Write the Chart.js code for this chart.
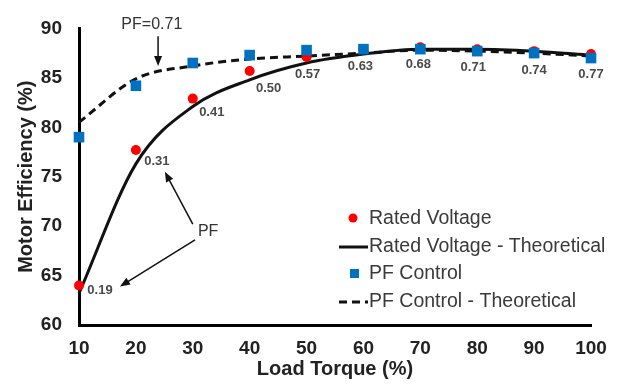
<!DOCTYPE html>
<html>
<head>
<meta charset="utf-8">
<script src="https://cdn.jsdelivr.net/npm/chart.js@4.4.1/dist/chart.umd.min.js"></script>
<style>
html, body { margin:0; padding:0; background:#fff; }
</style>
</head>
<body>
<canvas id="myChart" width="624" height="391"></canvas>
<script>
// data
var loadTorque   = [10, 20, 30, 40, 50, 60, 70, 80, 90, 100];
var ratedVoltage = [64.0, 77.7, 82.9, 85.7, 87.1, 87.9, 88.1, 87.9, 87.7, 87.4];
var ratedTheory  = [63.2, 76.3, 82.1, 84.8, 86.5, 87.4, 87.9, 87.9, 87.7, 87.3];
var pfControl    = [79.0, 84.2, 86.5, 87.3, 87.8, 87.9, 87.9, 87.7, 87.5, 87.0];
var pfTheory     = [80.5, 84.9, 86.2, 86.9, 87.2, 87.5, 87.8, 87.7, 87.5, 87.2];
var pfLabels     = ['0.19', '0.31', '0.41', '0.50', '0.57', '0.63', '0.68', '0.71', '0.74', '0.77'];
var xTicks = [10, 20, 30, 40, 50, 60, 70, 80, 90, 100];
var yTicks = [60, 65, 70, 75, 80, 85, 90];

// label offsets from the red points (px)
var labelOffsets = [[21,5],[21,11],[19,14],[19,18],[1,17],[-3,17],[-2,17],[-4,18],[0,19],[0,20]];

var FONT = 'Arial, "Liberation Sans", sans-serif';

function pts(ys) {
  return loadTorque.map(function(x, i) { return {x: x, y: ys[i]}; });
}

function arrow(ctx, x1, y1, x2, y2) {
  var a = Math.atan2(y2 - y1, x2 - x1);
  ctx.beginPath();
  ctx.moveTo(x1, y1);
  ctx.lineTo(x2 - 6 * Math.cos(a), y2 - 6 * Math.sin(a));
  ctx.stroke();
  ctx.beginPath();
  ctx.moveTo(x2, y2);
  ctx.lineTo(x2 - 10 * Math.cos(a) + 4 * Math.sin(a), y2 - 10 * Math.sin(a) - 4 * Math.cos(a));
  ctx.lineTo(x2 - 10 * Math.cos(a) - 4 * Math.sin(a), y2 - 10 * Math.sin(a) + 4 * Math.cos(a));
  ctx.closePath();
  ctx.fill();
}

var notesPlugin = {
  id: 'notes',
  afterDatasetsDraw: function(chart) {
    var ctx = chart.ctx;
    var xs = chart.scales.x, ys = chart.scales.y;
    ctx.save();
    // PF values next to the measured points
    ctx.font = 'bold 13px ' + FONT;
    ctx.fillStyle = '#4a4a4a';
    ctx.textAlign = 'center';
    ctx.textBaseline = 'middle';
    pfLabels.forEach(function(t, i) {
      var px = xs.getPixelForValue(loadTorque[i]);
      var py = ys.getPixelForValue(ratedVoltage[i]);
      ctx.fillText(t, px + labelOffsets[i][0], py + labelOffsets[i][1]);
    });

    ctx.strokeStyle = '#111';
    ctx.fillStyle = '#111';
    ctx.lineWidth = 1.5;
    // PF=0.71 callout
    arrow(ctx, xs.getPixelForValue(23.9), ys.getPixelForValue(89.2), xs.getPixelForValue(23.9), ys.getPixelForValue(86.2));
    // PF callouts
    arrow(ctx, xs.getPixelForValue(30.0), ys.getPixelForValue(70.2), xs.getPixelForValue(25.1), ys.getPixelForValue(75.5));
    arrow(ctx, xs.getPixelForValue(30.4), ys.getPixelForValue(68.6), xs.getPixelForValue(17.2), ys.getPixelForValue(63.9));

    ctx.font = '16px ' + FONT;
    ctx.fillStyle = '#333';
    ctx.textAlign = 'center';
    ctx.fillText('PF=0.71', xs.getPixelForValue(22.8), ys.getPixelForValue(90.35));
    ctx.fillText('PF', xs.getPixelForValue(32.7), ys.getPixelForValue(69.4));
    ctx.restore();
  },
  afterDraw: function(chart) {
    // legend inside the plot
    var ctx = chart.ctx;
    var ds = chart.data.datasets;
    var lx = 369, rows = [218, 246, 273, 301];
    var order = [1, 2, 0, 3];
    ctx.save();
    ctx.font = '19.5px ' + FONT;
    ctx.textAlign = 'left';
    ctx.textBaseline = 'middle';
    order.forEach(function(k, r) {
      var d = ds[k];
      var y = rows[r];
      if (d.showLine) {
        ctx.strokeStyle = '#111';
        ctx.lineWidth = 3;
        ctx.setLineDash(d.borderDash || []);
        ctx.beginPath();
        ctx.moveTo(lx - 30, y + 1);
        ctx.lineTo(lx - 1, y + 1);
        ctx.stroke();
        ctx.setLineDash([]);
      } else if (d.pointStyle === 'rect') {
        ctx.fillStyle = d.backgroundColor;
        ctx.fillRect(lx - 19, y - 4, 9, 9);
      } else {
        ctx.fillStyle = d.backgroundColor;
        ctx.beginPath();
        ctx.arc(lx - 16, y, 4.5, 0, Math.PI * 2);
        ctx.fill();
      }
      ctx.fillStyle = '#3a3a3a';
      ctx.fillText(d.label, lx, y + 1);
    });
    ctx.restore();
  }
};

var ctx = document.getElementById('myChart').getContext('2d');
window.myChart = new Chart(ctx, {
  type: 'scatter',
  data: {
    datasets: [
      {
        label: 'PF Control',
        data: pts(pfControl),
        pointStyle: 'rect',
        pointRadius: 7.5,
        backgroundColor: '#0070C0',
        borderColor: '#0070C0',
        borderWidth: 0,
        clip: false,
        order: 0
      },
      {
        label: 'Rated Voltage',
        data: pts(ratedVoltage),
        pointStyle: 'circle',
        pointRadius: 5,
        backgroundColor: '#FF0000',
        borderColor: '#FF0000',
        borderWidth: 0,
        clip: false,
        order: 1
      },
      {
        label: 'Rated Voltage - Theoretical',
        data: pts(ratedTheory),
        showLine: true,
        pointRadius: 0,
        borderColor: '#111',
        borderWidth: 3,
        cubicInterpolationMode: 'monotone',
        clip: false,
        order: 2
      },
      {
        label: 'PF Control - Theoretical',
        data: pts(pfTheory),
        showLine: true,
        pointRadius: 0,
        borderColor: '#111',
        borderWidth: 3,
        borderDash: [8, 5],
        cubicInterpolationMode: 'monotone',
        clip: false,
        order: 3
      }
    ]
  },
  options: {
    responsive: false,
    animation: false,
    layout: { padding: { left: 0, right: 33, top: 22, bottom: 0 } },
    plugins: {
      legend: { display: false },
      tooltip: { enabled: false }
    },
    scales: {
      x: {
        type: 'linear',
        min: 10,
        max: 100,
        afterFit: function(s) { s.height = 66; },
        afterBuildTicks: function(s) { s.ticks = xTicks.map(function(v) { return {value: v}; }); },
        grid: { display: false, drawTicks: false },
        border: { display: true, color: '#000', width: 3 },
        ticks: { padding: 12, color: '#222', font: { family: FONT, size: 19, weight: 'bold' } },
        title: { display: true, text: 'Load Torque (%)', color: '#222', padding: { top: 0, bottom: 10 },
                 font: { family: FONT, size: 20, weight: 'bold' } }
      },
      y: {
        min: 60,
        max: 90,
        afterFit: function(s) { s.width = 79; },
        afterBuildTicks: function(s) { s.ticks = yTicks.map(function(v) { return {value: v}; }); },
        grid: { display: false, drawTicks: false },
        border: { display: true, color: '#000', width: 3 },
        ticks: { padding: 17, color: '#222', font: { family: FONT, size: 19, weight: 'bold' } },
        title: { display: true, text: 'Motor Efficiency (%)', color: '#222', padding: { top: 14, bottom: 0 },
                 font: { family: FONT, size: 20, weight: 'bold' } }
      }
    }
  },
  plugins: [notesPlugin]
});
</script>
</body>
</html>
